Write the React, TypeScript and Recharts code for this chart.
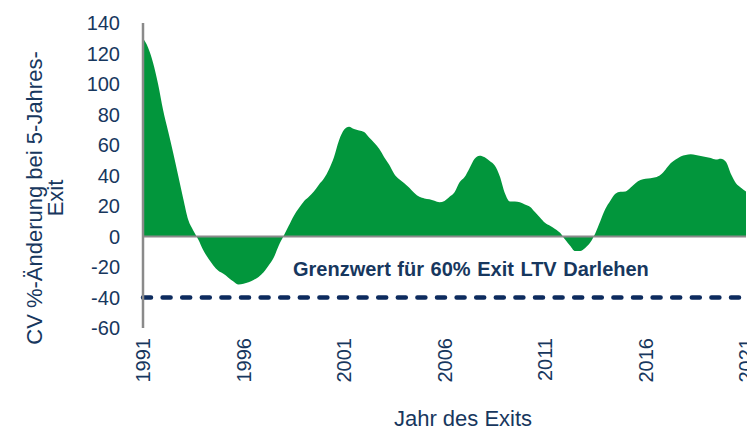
import { AreaChart, Area, XAxis, YAxis, ReferenceLine } from 'recharts';

// Exit years, one row per year, quarterly CV change in %
const exitYears = [
  1991, 1992, 1993, 1994, 1995, 1996, 1997, 1998, 1999, 2000,
  2001, 2002, 2003, 2004, 2005, 2006, 2007, 2008, 2009, 2010,
  2011, 2012, 2013, 2014, 2015, 2016, 2017, 2018, 2019, 2020, 2021,
];

const cvChangeByQuarter: number[][] = [
  [130, 124, 114, 100],
  [83, 69, 55, 40],
  [25, 11, 4, -2],
  [-9, -14.5, -19, -22.5],
  [-24.5, -27, -29.5, -31.5],
  [-31, -30, -28.5, -26.5],
  [-23.5, -19, -14, -6],
  [0.5, 7, 13.5, 18.5],
  [23, 26, 29.5, 34],
  [38, 44, 52, 63],
  [70, 72, 70.5, 69.5],
  [68.5, 65, 61.5, 57.5],
  [52, 47, 41, 37.5],
  [35, 32, 28.5, 26],
  [25, 24.5, 23.5, 22.5],
  [23.3, 26, 29, 35.5],
  [39, 45, 51, 53],
  [52, 49.5, 46.5, 39.5],
  [28.5, 23, 23, 22.5],
  [21, 19.5, 16, 12.5],
  [9, 7, 5, 2.5],
  [-2, -6, -9.5, -9.5],
  [-7.5, -4, 2, 10],
  [18, 23.5, 28, 29.3],
  [29.5, 32, 35, 37],
  [37.8, 38.2, 38.8, 40.5],
  [44, 48, 50.5, 52.5],
  [53.5, 54, 53.5, 52.8],
  [52.2, 51.5, 50.5, 51],
  [49, 41, 35, 32],
  [29.5],
];

const xTicks = [1991, 1996, 2001, 2006, 2011, 2016, 2021];
const yTicks = [-60, -40, -20, 0, 20, 40, 60, 80, 100, 120, 140];
const limitValue = -40;
const limitText = 'Grenzwert für 60% Exit LTV Darlehen';

const data = exitYears.flatMap((year, i) =>
  cvChangeByQuarter[i].map((cv, q) => ({ year: year + q / 4, cv }))
);

const NAVY = '#17375E';
const DASH = '#0D2B5E';
const GREEN = '#02963C';
const GREY = '#8A8A8A';
const FONT = '"Liberation Sans", Arial, sans-serif';

const YearTick = ({ x, y, payload }: any) => (
  <text
    x={x}
    y={y}
    transform={`rotate(-90, ${x}, ${y})`}
    textAnchor="end"
    dominantBaseline="central"
    fill={NAVY}
    fontSize={20}
    fontFamily={FONT}
  >
    {payload.value}
  </text>
);

const renderYTitle = () => (
  <text
    x={42}
    y={198}
    transform="rotate(-90, 42, 198)"
    textAnchor="middle"
    fill={NAVY}
    fontSize={22}
    fontFamily={FONT}
  >
    <tspan x={42} dy={0}>CV %-Änderung bei 5-Jahres-</tspan>
    <tspan x={42} dy={21}>Exit</tspan>
  </text>
);

const renderXTitle = () => (
  <text x={463} y={426} textAnchor="middle" fill={NAVY} fontSize={22} fontFamily={FONT}>
    Jahr des Exits
  </text>
);

const renderLimitLabel = () => (
  <text x={293} y={276} fill={NAVY} fontSize={20} fontWeight="bold" fontFamily={FONT} wordSpacing={1}>
    {limitText}
  </text>
);

export default function App() {
  return (
    <div
      style={{
        position: 'fixed',
        left: 0,
        top: 0,
        width: 747,
        height: 430,
        overflow: 'hidden',
        background: '#fff',
      }}
    >
      <AreaChart width={780} height={430} data={data} margin={{ top: 23, right: 34, bottom: 22, left: 0 }}>
        <XAxis
          dataKey="year"
          type="number"
          domain={[1991, 2021]}
          ticks={xTicks}
          axisLine={false}
          tickLine={false}
          tickSize={0}
          tickMargin={10}
          height={80}
          tick={<YearTick />}
          label={renderXTitle}
        />
        <YAxis
          type="number"
          domain={[-60, 140]}
          ticks={yTicks}
          width={143}
          axisLine={{ stroke: GREY, strokeWidth: 2.5 }}
          tickLine={false}
          tickSize={0}
          tickMargin={23}
          tick={{ fill: NAVY, fontSize: 20, fontFamily: FONT }}
          label={renderYTitle}
        />
        <Area
          type="monotone"
          dataKey="cv"
          baseValue={0}
          fill={GREEN}
          fillOpacity={1}
          stroke="none"
          dot={false}
          activeDot={false}
          isAnimationActive={false}
        />
        <ReferenceLine y={0} stroke={GREY} strokeWidth={2} />
        <ReferenceLine
          y={limitValue}
          stroke={DASH}
          strokeWidth={4.5}
          strokeDasharray="8 11.6"
          strokeLinecap="round"
          label={renderLimitLabel}
        />
      </AreaChart>
    </div>
  );
}
